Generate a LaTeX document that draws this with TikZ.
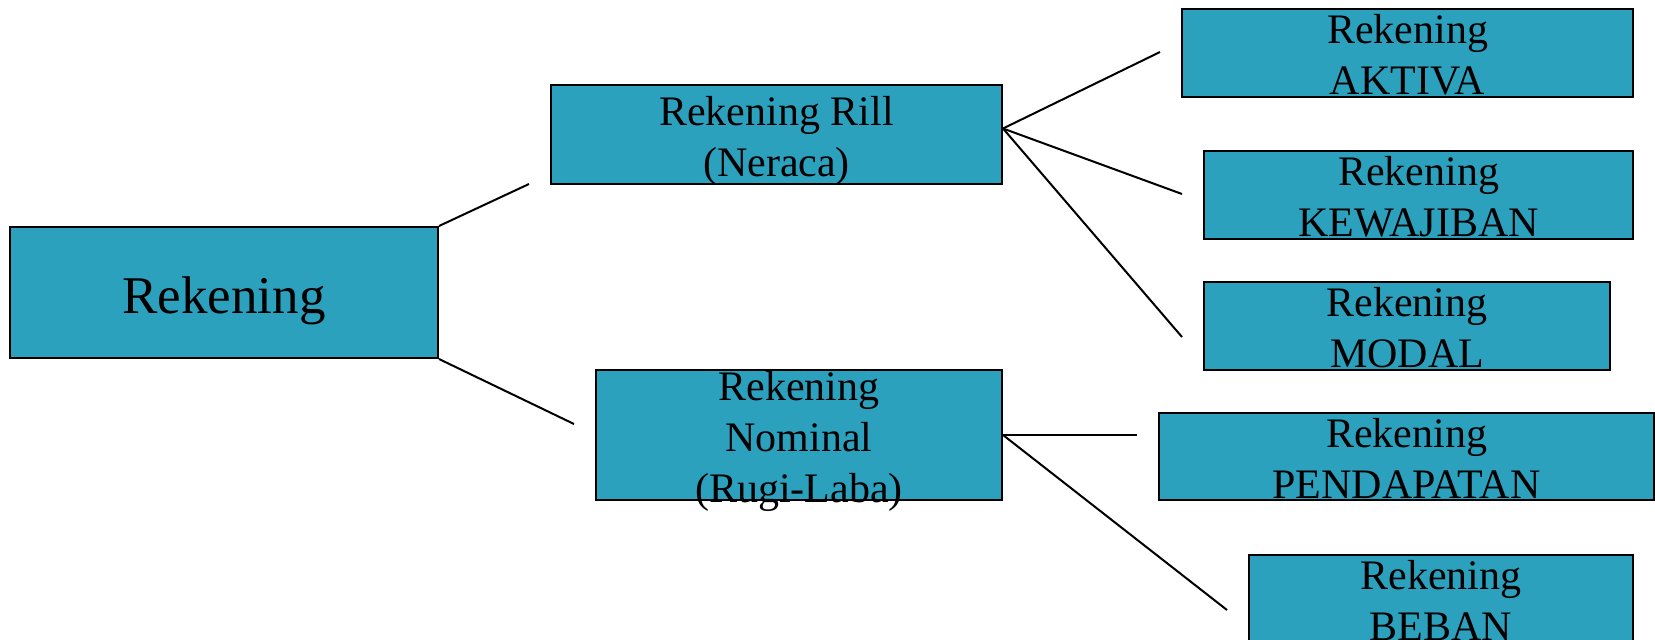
\documentclass[tikz,border=0pt]{standalone}
\usepackage{fontspec}
\setmainfont{Liberation Serif}
\definecolor{acctblue}{RGB}{44,161,190}
\newcommand{\boxtext}[1]{\begin{tabular}{@{}c@{}}#1\end{tabular}}

\begin{document}
\begin{tikzpicture}[x=1pt, y=-1pt,
      acctbox/.style = {shape=rectangle, draw, line width=2pt,
        fill=acctblue, inner sep=0pt},
      acctlbl/.style = {inner sep=0pt, yshift=-5.8pt,
        font=\fontsize{42}{51}\selectfont},
      link/.style = {line width=2pt}]
  \useasboundingbox (0,0) rectangle (1655,640);
  % root
  \node[acctbox, minimum width=428pt, minimum height=131pt,
        label={[acctlbl, yshift=-1.9pt, font=\fontsize{53}{64}\selectfont]center:\boxtext{Rekening}}]
        (rek) at (224,292.5) {};
  % second level
  \node[acctbox, minimum width=451pt, minimum height=99pt,
        label={[acctlbl]center:\boxtext{Rekening Rill\\(Neraca)}}]
        (rill) at (776.5,134.5) {};
  \node[acctbox, minimum width=406pt, minimum height=130pt,
        label={[acctlbl]center:\boxtext{Rekening\\Nominal\\(Rugi-Laba)}}]
        (nominal) at (799,435) {};
  % third level
  \node[acctbox, minimum width=451pt, minimum height=88pt,
        label={[acctlbl]center:\boxtext{Rekening\\AKTIVA}}]
        (aktiva) at (1407.5,52.5) {};
  \node[acctbox, minimum width=429pt, minimum height=88pt,
        label={[acctlbl]center:\boxtext{Rekening\\KEWAJIBAN}}]
        (kewajiban) at (1418.5,195) {};
  \node[acctbox, minimum width=406pt, minimum height=88pt,
        label={[acctlbl]center:\boxtext{Rekening\\MODAL}}]
        (modal) at (1407,326) {};
  \node[acctbox, minimum width=495pt, minimum height=87pt,
        label={[acctlbl]center:\boxtext{Rekening\\PENDAPATAN}}]
        (pendapatan) at (1406.5,456.5) {};
  \node[acctbox, minimum width=384pt, minimum height=88pt,
        label={[acctlbl]center:\boxtext{Rekening\\BEBAN}}]
        (beban) at (1441,599) {};
  % loose ends of the connectors
  \coordinate (toRill) at (529,184);
  \coordinate (toNominal) at (574,424);
  \coordinate (toAktiva) at (1160,52);
  \coordinate (toKewajiban) at (1182,194);
  \coordinate (toModal) at (1182,337);
  \coordinate (toPendapatan) at (1137,435);
  \coordinate (toBeban) at (1227,610);
  \draw[link] (rek.north east) -- (toRill);
  \draw[link] (rek.south east) -- (toNominal);
  \draw[link] ([yshift=6pt]rill.east) -- (toAktiva);
  \draw[link] ([yshift=6pt]rill.east) -- (toKewajiban);
  \draw[link] ([yshift=6pt]rill.east) -- (toModal);
  \draw[link] (nominal.east) -- (toPendapatan);
  \draw[link] (nominal.east) -- (toBeban);
\end{tikzpicture}
\end{document}
